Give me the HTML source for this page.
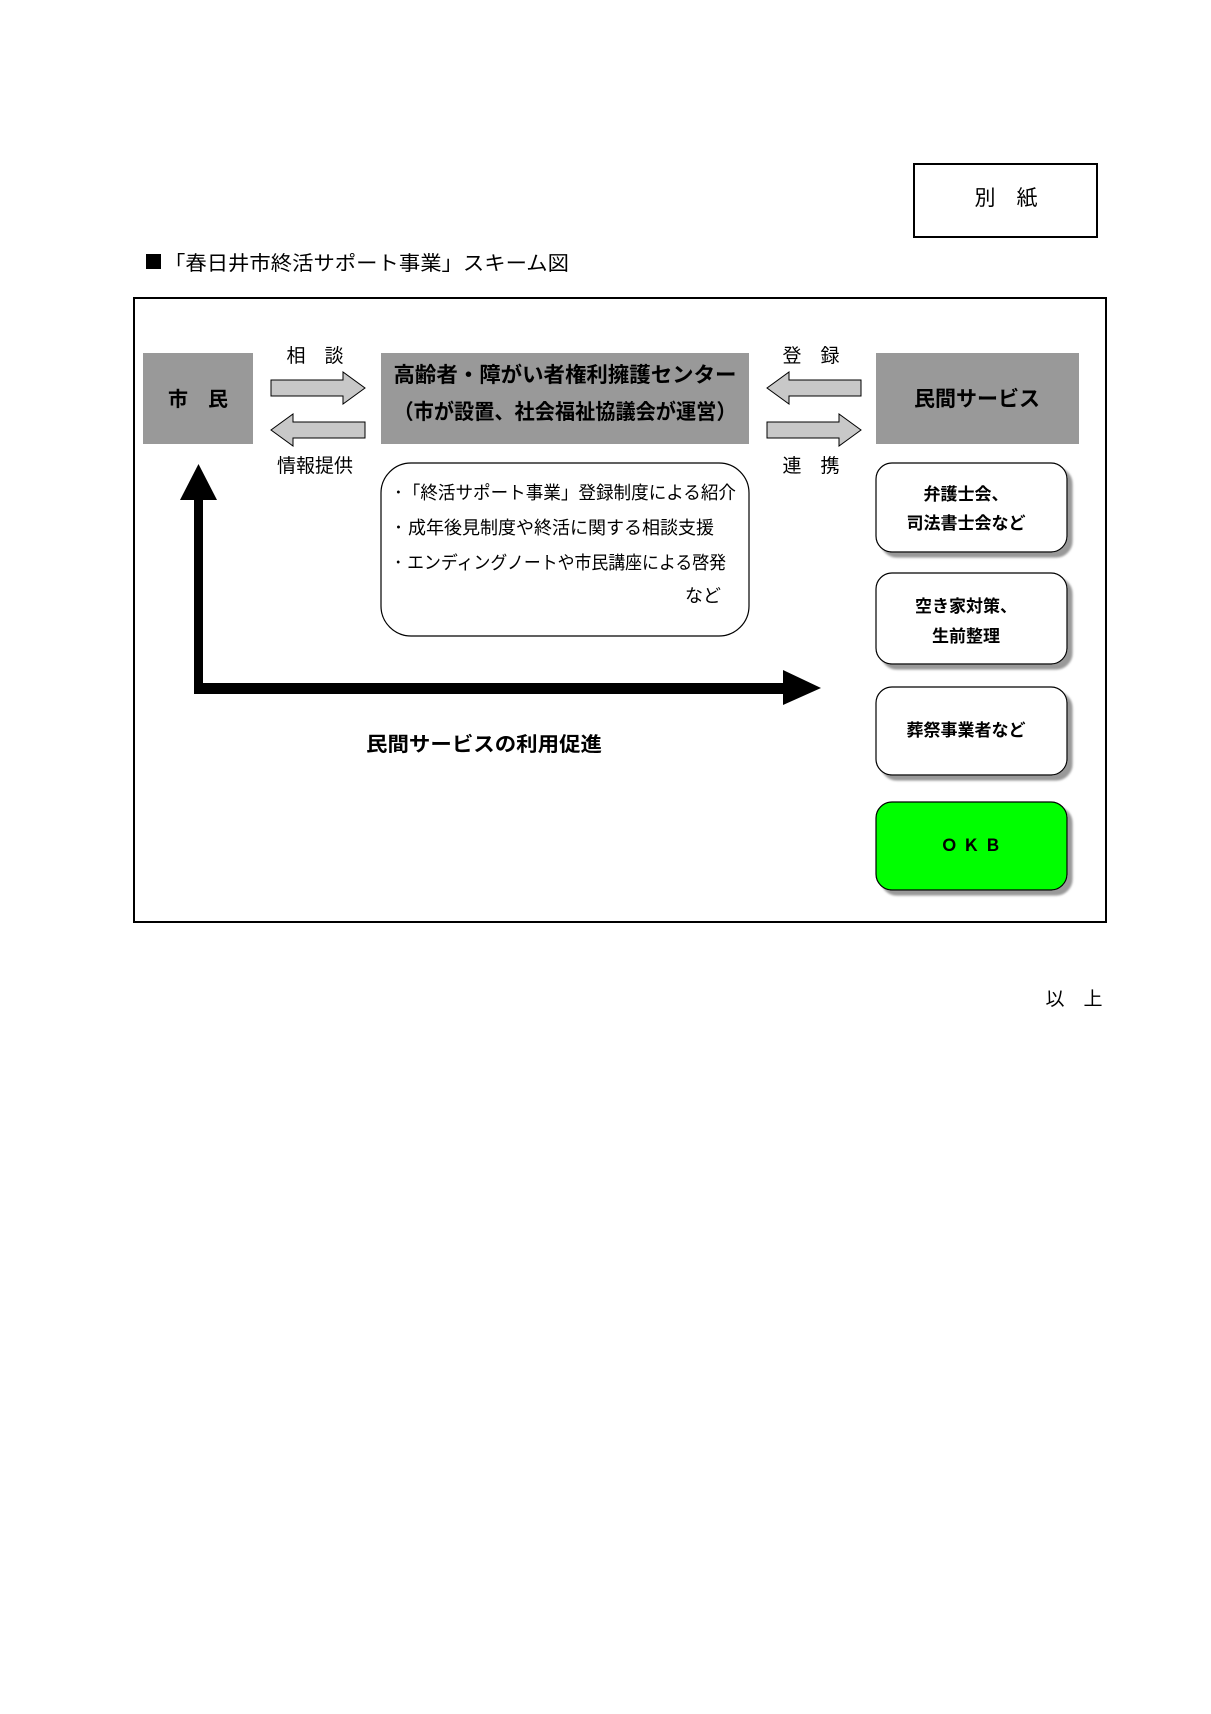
<!DOCTYPE html>
<html><head><meta charset="utf-8"><style>
html,body{margin:0;padding:0;background:#fff;}
svg{display:block;}
text{font-family:"Liberation Sans","Noto Sans CJK JP",sans-serif;fill:#000;}
.b{font-weight:bold;}
</style></head><body>
<svg width="1211" height="1714" viewBox="0 0 1211 1714" xmlns="http://www.w3.org/2000/svg">
<defs>
<filter id="sh" x="-10%" y="-10%" width="130%" height="130%"><feDropShadow dx="5" dy="5" stdDeviation="1" flood-color="#999"/></filter>
</defs>
<rect x="914" y="164" width="183" height="73" fill="#fff" stroke="#000" stroke-width="2"/>
<text x="1006" y="205" font-size="21" text-anchor="middle">別　紙</text>
<rect x="146" y="254" width="15" height="15" fill="#000"/>
<text x="164" y="270" font-size="20" textLength="405" lengthAdjust="spacingAndGlyphs">「春日井市終活サポート事業」スキーム図</text>
<rect x="134" y="298" width="972" height="624" fill="none" stroke="#000" stroke-width="2"/>
<rect x="143" y="353" width="110" height="91" fill="#999"/>
<text x="198" y="406" font-size="20" class="b" text-anchor="middle">市　民</text>
<rect x="381" y="353" width="368" height="91" fill="#999"/>
<text x="565" y="382" font-size="21" class="b" text-anchor="middle" textLength="343" lengthAdjust="spacingAndGlyphs">高齢者・障がい者権利擁護センター</text>
<text x="565" y="419" font-size="21" class="b" text-anchor="middle" textLength="343" lengthAdjust="spacingAndGlyphs">（市が設置、社会福祉協議会が運営）</text>
<rect x="876" y="353" width="203" height="91" fill="#999"/>
<text x="977" y="406" font-size="21" class="b" text-anchor="middle">民間サービス</text>
<text x="315" y="362" font-size="19" text-anchor="middle">相　談</text>
<text x="315" y="472" font-size="19" text-anchor="middle">情報提供</text>
<text x="811" y="362" font-size="19" text-anchor="middle">登　録</text>
<text x="811" y="472" font-size="19" text-anchor="middle">連　携</text>
<g fill="#c8c8c8" stroke="#000" stroke-width="1">
<polygon points="271,380 343,380 343,372 365,388 343,404 343,396 271,396"/>
<polygon points="365,422 293,422 293,414 271,430 293,446 293,438 365,438"/>
<polygon points="861,380 789,380 789,372 767,388 789,404 789,396 861,396"/>
<polygon points="767,422 839,422 839,414 861,430 839,446 839,438 767,438"/>
</g>
<rect x="381" y="463" width="368" height="173" rx="30" fill="#fff" stroke="#000" stroke-width="1.2"/>
<text x="394" y="499" font-size="18" textLength="342" lengthAdjust="spacingAndGlyphs">･「終活サポート事業」登録制度による紹介</text>
<text x="394" y="534" font-size="18" textLength="320" lengthAdjust="spacingAndGlyphs">･ 成年後見制度や終活に関する相談支援</text>
<text x="394" y="569" font-size="18" textLength="332" lengthAdjust="spacingAndGlyphs">･ エンディングノートや市民講座による啓発</text>
<text x="685" y="602" font-size="18">など</text>
<g filter="url(#sh)" stroke="#000" stroke-width="1.2">
<rect x="876" y="463" width="191" height="89" rx="16" fill="#fff"/>
<rect x="876" y="573" width="191" height="91" rx="16" fill="#fff"/>
<rect x="876" y="687" width="191" height="88" rx="16" fill="#fff"/>
<rect x="876" y="802" width="191" height="88" rx="16" fill="#0f0"/>
</g>
<text x="966" y="500" font-size="17" class="b" text-anchor="middle">弁護士会、</text>
<text x="966" y="529" font-size="17" class="b" text-anchor="middle">司法書士会など</text>
<text x="966" y="612" font-size="17" class="b" text-anchor="middle">空き家対策、</text>
<text x="966" y="642" font-size="17" class="b" text-anchor="middle">生前整理</text>
<text x="966" y="736" font-size="17" class="b" text-anchor="middle">葬祭事業者など</text>
<text x="971" y="851" font-size="17" class="b" text-anchor="middle">Ｏ Ｋ Ｂ</text>
<rect x="194" y="498" width="9" height="196" fill="#000"/>
<polygon points="180,500 217,500 198.5,464" fill="#000"/>
<rect x="194" y="683" width="592" height="11" fill="#000"/>
<polygon points="783,670 821,688 783,705" fill="#000"/>
<text x="484" y="751" font-size="20" class="b" text-anchor="middle" textLength="236" lengthAdjust="spacingAndGlyphs">民間サービスの利用促進</text>
<text x="1074" y="1005" font-size="19" text-anchor="middle">以　上</text>
</svg>
</body></html>
